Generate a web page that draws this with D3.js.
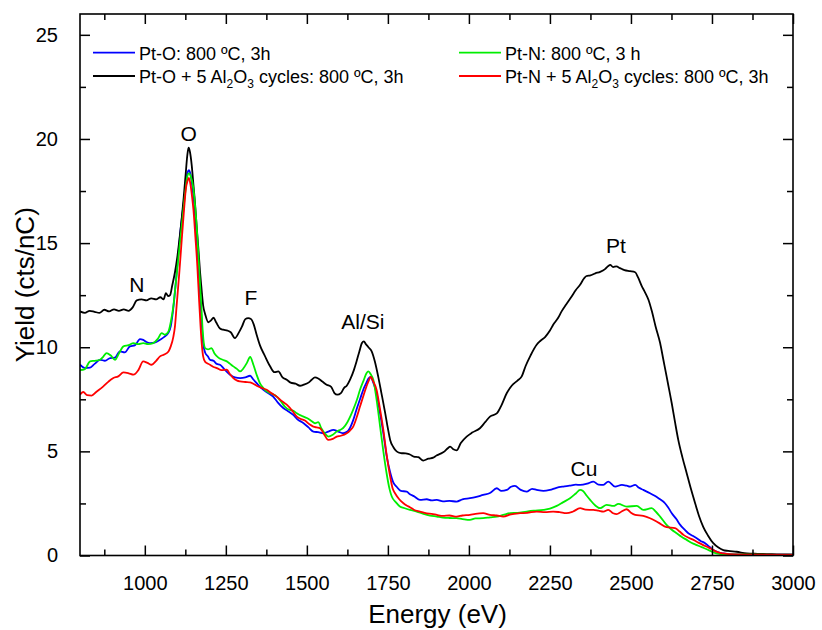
<!DOCTYPE html>
<html>
<head>
<meta charset="utf-8">
<script src="https://cdn.jsdelivr.net/npm/d3@7"></script>
<style>
  html, body { margin: 0; padding: 0; background: #fff; }
  svg { display: block; font-family: "Liberation Sans", Arial, sans-serif; }
</style>
</head>
<body>
<svg id="chart" width="822" height="630"></svg>
<script>
// ---- Data (Energy eV, Yield cts/nC) ----
const ptO = [[800,9.16],[815,9.0],[831,9.02],[845,9.2],[862,9.4],[877,9.35],[893,9.48],[908,9.5],[923,9.8],[938,9.75],[954,10.04],[970,10.1],[985,10.39],[995,10.35],[1005,10.25],[1016,10.2],[1030,10.22],[1047,10.36],[1060,10.5],[1073,10.7],[1080,11.0],[1088,11.9],[1095,13.0],[1103,14.4],[1110,15.6],[1119,16.8],[1127,17.9],[1132,18.4],[1136,18.5],[1141,18.3],[1146,17.8],[1152,16.9],[1158,15.6],[1164,14.2],[1170,12.7],[1175,11.3],[1180,10.2],[1186,9.75],[1195,9.55],[1201,9.4],[1212,9.35],[1222,9.2],[1232,9.16],[1245,8.95],[1263,8.68],[1278,8.55],[1294,8.52],[1310,8.55],[1325,8.63],[1335,8.45],[1345,8.28],[1355,8.1],[1366,7.96],[1380,7.8],[1396,7.63],[1410,7.35],[1427,7.08],[1440,6.95],[1458,6.75],[1470,6.55],[1489,6.36],[1505,6.15],[1520,5.95],[1535,5.92],[1551,5.87],[1566,5.95],[1582,6.03],[1597,5.95],[1612,5.87],[1625,5.95],[1633,6.12],[1643,6.5],[1653,7.0],[1664,7.5],[1674,7.96],[1684,8.3],[1690,8.5],[1697,8.57],[1705,8.3],[1715,7.8],[1725,6.9],[1736,5.87],[1746,4.8],[1757,4.0],[1767,3.5],[1777,3.3],[1790,3.1],[1808,3.07],[1818,2.94],[1830,2.85],[1849,2.67],[1870,2.7],[1885,2.65],[1901,2.67],[1920,2.6],[1940,2.62],[1962,2.59],[1980,2.7],[2003,2.75],[2020,2.8],[2044,2.91],[2065,3.0],[2086,3.23],[2100,3.1],[2117,3.15],[2130,3.3],[2142,3.34],[2160,3.15],[2178,3.07],[2195,3.2],[2209,3.15],[2230,3.1],[2250,3.15],[2270,3.25],[2291,3.31],[2310,3.35],[2330,3.4],[2343,3.39],[2365,3.45],[2384,3.55],[2400,3.4],[2415,3.39],[2430,3.55],[2451,3.31],[2472,3.39],[2487,3.35],[2497,3.31],[2513,3.39],[2525,3.25],[2538,3.15],[2559,2.99],[2572,2.88],[2585,2.75],[2605,2.51],[2615,2.3],[2626,2.03],[2640,1.75],[2652,1.47],[2665,1.25],[2677,1.07],[2690,0.95],[2703,0.83],[2715,0.7],[2729,0.59],[2742,0.42],[2754,0.26],[2770,0.15],[2785,0.1],[2816,0.05],[2900,0.04],[3000,0.03]];

const ptOAl = [[800,11.72],[815,11.65],[830,11.75],[845,11.7],[860,11.65],[875,11.8],[890,11.72],[905,11.82],[920,11.75],[935,11.82],[950,11.75],[962,11.9],[975,12.25],[990,12.3],[1005,12.25],[1020,12.35],[1035,12.3],[1048,12.4],[1058,12.3],[1065,12.6],[1072,12.45],[1078,12.5],[1085,13.0],[1093,13.6],[1100,14.3],[1107,15.2],[1114,16.2],[1120,17.2],[1126,18.3],[1131,19.2],[1135,19.58],[1139,19.4],[1145,18.7],[1150,17.8],[1155,16.9],[1160,15.8],[1165,14.8],[1170,13.7],[1175,12.8],[1180,12.0],[1186,11.6],[1196,11.2],[1205,11.3],[1212,11.42],[1220,11.2],[1232,10.9],[1242,10.84],[1255,10.8],[1265,10.72],[1278,10.44],[1290,10.7],[1300,11.0],[1310,11.35],[1319,11.4],[1328,11.35],[1336,11.1],[1345,10.6],[1355,10.1],[1370,9.6],[1386,9.1],[1400,8.8],[1412,8.84],[1425,8.55],[1438,8.44],[1450,8.3],[1465,8.25],[1479,8.15],[1490,8.2],[1505,8.3],[1515,8.44],[1525,8.55],[1535,8.5],[1548,8.35],[1561,8.2],[1575,8.1],[1585,7.8],[1594,7.72],[1605,7.8],[1615,8.05],[1623,8.15],[1635,8.5],[1645,8.9],[1653,9.3],[1662,9.8],[1670,10.2],[1676,10.28],[1682,10.15],[1690,10.0],[1700,9.8],[1710,9.3],[1720,8.6],[1730,7.8],[1741,6.9],[1750,6.1],[1757,5.55],[1767,5.2],[1777,5.0],[1790,4.92],[1805,4.9],[1818,4.85],[1830,4.75],[1844,4.72],[1859,4.56],[1875,4.65],[1890,4.7],[1900,4.8],[1911,4.88],[1925,5.0],[1935,5.15],[1942,5.23],[1952,5.1],[1962,5.05],[1975,5.4],[1993,5.71],[2010,5.9],[2034,6.11],[2050,6.4],[2065,6.67],[2086,6.82],[2100,7.2],[2117,7.8],[2132,8.15],[2150,8.4],[2163,8.6],[2175,9.1],[2190,9.6],[2209,10.12],[2220,10.3],[2235,10.49],[2250,10.8],[2260,11.08],[2275,11.4],[2286,11.72],[2300,12.05],[2317,12.44],[2330,12.75],[2343,13.0],[2355,13.3],[2363,13.42],[2375,13.45],[2390,13.55],[2405,13.62],[2420,13.75],[2430,13.9],[2436,13.95],[2445,13.85],[2455,13.88],[2466,13.8],[2480,13.7],[2497,13.65],[2513,13.6],[2522,13.35],[2533,12.95],[2543,12.65],[2554,12.28],[2565,11.7],[2576,11.0],[2590,10.2],[2600,9.4],[2610,8.6],[2618,7.95],[2626,7.3],[2636,6.4],[2646,5.55],[2659,4.7],[2672,3.95],[2685,3.2],[2698,2.51],[2710,1.9],[2723,1.38],[2738,0.95],[2754,0.59],[2770,0.38],[2785,0.26],[2800,0.22],[2826,0.18],[2857,0.1],[2890,0.08],[2919,0.07],[2960,0.05],[3000,0.05]];

const ptN = [[800,8.9],[815,8.95],[831,9.32],[845,9.35],[862,9.4],[872,9.55],[882,9.72],[895,9.6],[908,9.4],[920,9.7],[934,10.04],[950,10.1],[965,10.2],[980,10.15],[995,10.2],[1010,10.15],[1026,10.2],[1040,10.4],[1052,10.68],[1062,10.6],[1073,10.76],[1080,11.2],[1088,11.96],[1095,13.0],[1103,14.2],[1111,15.4],[1119,16.6],[1126,17.6],[1131,18.2],[1136,18.35],[1142,18.2],[1150,17.6],[1155,16.8],[1160,15.8],[1165,14.5],[1170,13.1],[1175,11.8],[1179,10.7],[1186,9.96],[1195,9.9],[1206,9.96],[1215,9.7],[1227,9.5],[1240,9.4],[1253,9.32],[1263,9.2],[1273,9.08],[1285,8.95],[1294,8.84],[1305,9.0],[1315,9.25],[1325,9.53],[1335,9.16],[1345,8.68],[1355,8.28],[1366,8.04],[1376,7.88],[1390,7.78],[1407,7.63],[1420,7.4],[1432,7.15],[1445,7.0],[1458,6.95],[1469,6.83],[1485,6.7],[1500,6.6],[1515,6.45],[1525,6.35],[1535,6.4],[1545,6.1],[1556,5.85],[1566,5.71],[1580,5.8],[1592,5.95],[1605,6.05],[1612,6.12],[1625,6.4],[1643,7.0],[1655,7.5],[1664,7.96],[1675,8.4],[1684,8.75],[1690,8.84],[1697,8.7],[1705,8.44],[1715,7.5],[1726,6.19],[1736,5.0],[1746,3.95],[1755,3.2],[1762,2.83],[1775,2.55],[1787,2.35],[1800,2.28],[1818,2.19],[1839,2.11],[1860,2.0],[1880,1.92],[1901,1.87],[1920,1.82],[1940,1.8],[1962,1.79],[1980,1.75],[2003,1.71],[2020,1.78],[2044,1.79],[2065,1.83],[2086,1.87],[2106,1.95],[2127,2.03],[2150,2.05],[2178,2.11],[2200,2.15],[2230,2.19],[2250,2.25],[2271,2.38],[2290,2.55],[2312,2.75],[2330,2.98],[2343,3.15],[2352,3.1],[2362,2.9],[2374,2.67],[2390,2.4],[2405,2.27],[2425,2.43],[2446,2.38],[2461,2.48],[2487,2.35],[2518,2.38],[2538,2.19],[2564,2.27],[2577,2.1],[2590,1.87],[2610,1.47],[2625,1.25],[2641,1.07],[2656,0.9],[2672,0.75],[2688,0.6],[2703,0.5],[2718,0.4],[2734,0.3],[2750,0.18],[2764,0.1],[2790,0.05],[2900,0.04],[3000,0.03]];

const ptNAl = [[800,7.72],[810,7.85],[822,7.7],[836,7.68],[850,7.85],[872,8.12],[888,8.35],[903,8.52],[918,8.6],[934,8.79],[950,8.75],[965,8.68],[980,8.9],[995,9.32],[1008,9.25],[1021,9.16],[1035,9.35],[1047,9.56],[1060,9.65],[1073,9.8],[1080,10.04],[1088,10.5],[1093,11.0],[1098,11.96],[1106,13.5],[1114,15.17],[1120,16.4],[1127,17.65],[1132,18.0],[1136,18.13],[1141,17.8],[1146,17.2],[1150,16.6],[1156,15.3],[1162,13.9],[1167,12.4],[1172,11.0],[1176,10.1],[1180,9.56],[1186,9.3],[1191,9.24],[1201,9.16],[1212,9.05],[1222,9.0],[1237,8.9],[1253,8.92],[1263,8.7],[1273,8.52],[1285,8.4],[1294,8.36],[1310,8.33],[1325,8.31],[1335,8.25],[1345,8.15],[1360,8.05],[1376,7.96],[1390,7.8],[1407,7.63],[1420,7.45],[1438,7.24],[1455,6.95],[1469,6.67],[1482,6.55],[1494,6.48],[1508,6.3],[1520,6.19],[1530,6.15],[1540,6.12],[1552,5.85],[1566,5.55],[1580,5.6],[1592,5.71],[1605,5.75],[1623,5.87],[1633,6.0],[1643,6.19],[1653,6.6],[1664,7.15],[1674,7.65],[1684,8.12],[1691,8.4],[1697,8.57],[1705,8.35],[1715,7.96],[1725,7.1],[1736,6.03],[1746,4.85],[1757,3.79],[1765,3.2],[1772,2.99],[1785,2.7],[1798,2.51],[1808,2.4],[1818,2.32],[1830,2.2],[1849,2.11],[1870,2.02],[1885,2.0],[1901,1.95],[1920,1.9],[1940,1.92],[1962,1.87],[1980,1.92],[2003,1.95],[2020,2.0],[2044,2.03],[2065,1.95],[2086,1.92],[2106,1.87],[2130,1.98],[2158,2.03],[2180,2.05],[2209,2.11],[2235,2.08],[2260,2.11],[2280,2.08],[2301,2.03],[2320,2.1],[2343,2.27],[2360,2.2],[2384,2.19],[2400,2.15],[2415,2.11],[2430,2.19],[2445,2.03],[2456,1.99],[2470,2.1],[2487,2.22],[2500,2.05],[2513,1.95],[2538,1.9],[2559,1.79],[2585,1.58],[2610,1.36],[2636,1.31],[2650,1.15],[2662,0.99],[2678,0.85],[2693,0.75],[2708,0.62],[2723,0.5],[2740,0.38],[2754,0.26],[2770,0.15],[2785,0.1],[2820,0.05],[2900,0.04],[3000,0.03]];

const xTicks = [1000, 1250, 1500, 1750, 2000, 2250, 2500, 2750, 3000];
const xMinor = [875, 1125, 1375, 1625, 1875, 2125, 2375, 2625, 2875];
const yTicks = [0, 5, 10, 15, 20, 25];
const yMinor = [2.5, 7.5, 12.5, 17.5, 22.5];

const seriesNames = ["Pt-O: 800 ºC, 3h", "Pt-O + 5 Al2O3 cycles: 800 ºC, 3h", "Pt-N: 800 ºC, 3 h", "Pt-N + 5 Al2O3 cycles: 800 ºC, 3h"];
const seriesColors = ["#0000ff", "#000000", "#00ee00", "#ff0000"];
const seriesData = [ptO, ptOAl, ptN, ptNAl];

const annotations = [
  {text: "N", x: 975, y: 12.63},
  {text: "O", x: 1135, y: 19.9},
  {text: "F", x: 1327, y: 12.04},
  {text: "Al/Si", x: 1673, y: 10.89},
  {text: "Pt", x: 2454, y: 14.54},
  {text: "Cu", x: 2355, y: 3.84}
];

// ---- Layout ----
const svg = d3.select("#chart");
const m = {left: 80, top: 14, right: 29, bottom: 74.5};
const W = 822 - m.left - m.right;
const H = 630 - m.top - m.bottom;
const g = svg.append("g").attr("transform", `translate(${m.left},${m.top})`);

const x = d3.scaleLinear().domain([800, 3000]).range([0, W]);
const y = d3.scaleLinear().domain([0, 26]).range([H, 0]);

// clip
svg.append("defs").append("clipPath").attr("id", "clip")
  .append("rect").attr("width", W).attr("height", H);

// Lines
const line = d3.line().x(d => x(d[0])).y(d => y(d[1])).curve(d3.curveMonotoneX);
const lines = g.append("g").attr("clip-path", "url(#clip)");
const order = [0, 1, 2, 3];
order.forEach(i => {
  lines.append("path").datum(seriesData[i])
    .attr("fill", "none").attr("stroke", seriesColors[i])
    .attr("stroke-width", 1.8).attr("stroke-linejoin", "round")
    .attr("d", line);
});

// Axes
const axisStyle = sel => {
  sel.selectAll(".domain").remove();
  sel.selectAll("line").attr("stroke", "#000").attr("stroke-width", 1.5);
  sel.selectAll("text").attr("font-size", 20).attr("fill", "#000")
    .attr("font-family", "'Liberation Sans', Arial, sans-serif");
};

const xAxis = g.append("g").attr("transform", `translate(0,${H})`)
  .call(d3.axisBottom(x).tickValues(xTicks).tickSize(-10).tickPadding(20).tickFormat(d3.format("d")));
axisStyle(xAxis);
xAxis.selectAll("text").attr("dy", "0.72em");
const xAxisMin = g.append("g").attr("transform", `translate(0,${H})`)
  .call(d3.axisBottom(x).tickValues(xMinor).tickSize(-6).tickFormat(""));
axisStyle(xAxisMin);
const xTop = g.append("g").call(d3.axisTop(x).tickValues(xTicks).tickSize(-10).tickFormat(""));
axisStyle(xTop);
const xTopMin = g.append("g").call(d3.axisTop(x).tickValues(xMinor).tickSize(-6).tickFormat(""));
axisStyle(xTopMin);

const yAxis = g.append("g")
  .call(d3.axisLeft(y).tickValues(yTicks).tickSize(-10).tickPadding(22).tickFormat(d3.format("d")));
axisStyle(yAxis);
const yAxisMin = g.append("g").call(d3.axisLeft(y).tickValues(yMinor).tickSize(-6).tickFormat(""));
axisStyle(yAxisMin);
const yRight = g.append("g").attr("transform", `translate(${W},0)`)
  .call(d3.axisRight(y).tickValues(yTicks).tickSize(-10).tickFormat(""));
axisStyle(yRight);
const yRightMin = g.append("g").attr("transform", `translate(${W},0)`)
  .call(d3.axisRight(y).tickValues(yMinor).tickSize(-6).tickFormat(""));
axisStyle(yRightMin);

// frame
g.append("rect").attr("width", W).attr("height", H)
  .attr("fill", "none").attr("stroke", "#000").attr("stroke-width", 1.6);

// Axis titles
g.append("text").attr("x", W / 2 + 1).attr("y", H + 67)
  .attr("text-anchor", "middle").attr("font-size", 26).attr("fill", "#000")
  .text("Energy (eV)");
g.append("text").attr("transform", `translate(${-46},${H / 2}) rotate(-90)`)
  .attr("text-anchor", "middle").attr("font-size", 26).attr("fill", "#000")
  .text("Yield (cts/nC)");

// Annotations
annotations.forEach(a => {
  g.append("text").attr("x", x(a.x)).attr("y", y(a.y))
    .attr("text-anchor", "middle").attr("font-size", 21).attr("fill", "#000")
    .text(a.text);
});

// Legend
const legendPos = [
  {lx: 13, ly: 38.7},
  {lx: 13, ly: 62},
  {lx: 379, ly: 38.7},
  {lx: 379, ly: 62}
];
function addLabel(sel, label) {
  const parts = label.split("Al2O3");
  sel.append("tspan").text(parts[0]);
  if (parts.length > 1) {
    sel.append("tspan").text("Al");
    sel.append("tspan").attr("font-size", 12).attr("dy", 5).text("2");
    sel.append("tspan").attr("dy", -5).text("O");
    sel.append("tspan").attr("font-size", 12).attr("dy", 5).text("3");
    sel.append("tspan").attr("dy", -5).text(parts[1]);
  }
}
seriesNames.forEach((name, i) => {
  const p = legendPos[i];
  g.append("line").attr("x1", p.lx).attr("x2", p.lx + 42)
    .attr("y1", p.ly).attr("y2", p.ly)
    .attr("stroke", seriesColors[i]).attr("stroke-width", 1.8);
  const t = g.append("text").attr("x", p.lx + 46).attr("y", p.ly + 7)
    .attr("font-size", 18).attr("fill", "#000");
  addLabel(t, name);
});
</script>
</body>
</html>
